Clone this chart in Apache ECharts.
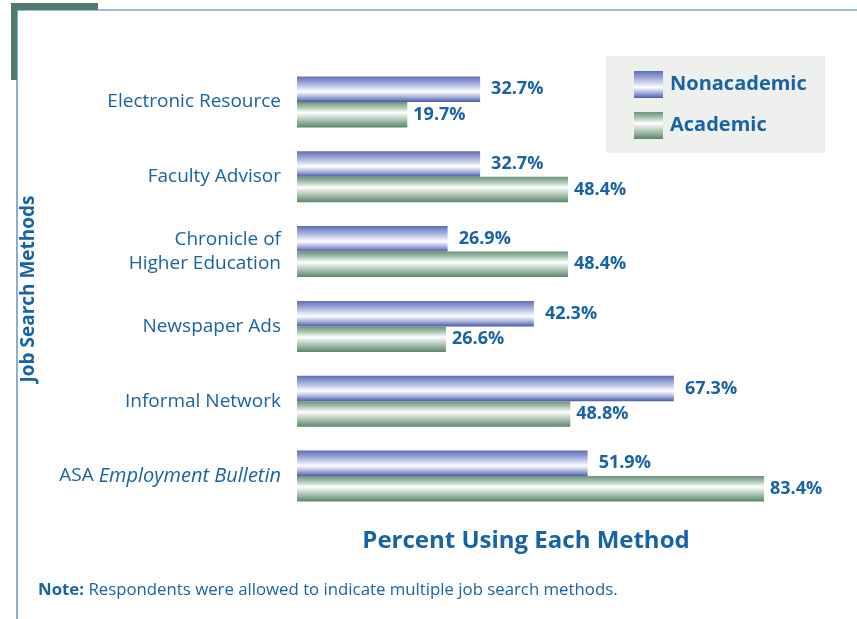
<!DOCTYPE html>
<html><head><meta charset="utf-8">
<script src="https://cdn.jsdelivr.net/npm/echarts@6/dist/echarts.min.js"></script>
<style>html,body{margin:0;padding:0;background:#fff}#c{width:857px;height:619px}</style>
</head><body><div id="c"></div>
<script>
const categories = ['Electronic Resource', 'Faculty Advisor', 'Chronicle of\nHigher Education', 'Newspaper Ads', 'Informal Network', 'ASA Employment Bulletin'];
const nonacademic = [32.7, 32.7, 26.9, 42.3, 67.3, 51.9];
const academic = [19.7, 48.4, 48.4, 26.6, 48.8, 83.4];
const seriesNames = ['Nonacademic', 'Academic'];
const xTitle = 'Percent Using Each Method';
const yTitle = 'Job Search Methods';
const noteBold = 'Note:';
const noteText = ' Respondents were allowed to indicate multiple job search methods.';

const TXT = '#1763a6';
const FONT = '"Open Sans", "Noto Sans", sans-serif';
function grad(edge, top, mid, whiteAt) {
  return new echarts.graphic.LinearGradient(0, 0, 0, 1, [
    {offset: 0, color: top}, {offset: whiteAt * 0.5, color: mid}, {offset: whiteAt, color: '#ffffff'},
    {offset: whiteAt + (1 - whiteAt) * 0.5, color: mid}, {offset: 1, color: edge}]);
}
const blueG = grad('#4a5ca4', '#5d6fb6', '#aab3de', 0.6);
const greenG = grad('#5a876a', '#6a927a', '#abc4b2', 0.42);

const chart = echarts.init(document.getElementById('c'));
chart.setOption({
  backgroundColor: '#fff',
  animation: false,
  textStyle: {fontFamily: FONT},
  grid: {left: 297, top: 64.5, width: 562, height: 449, containLabel: false},
  xAxis: {type: 'value', min: 0, max: 100, show: false},
  yAxis: {
    type: 'category', data: categories, inverse: true,
    axisLine: {show: false}, axisTick: {show: false},
    name: yTitle, nameLocation: 'middle', nameRotate: 90, nameGap: 259,
    nameTextStyle: {color: TXT, fontSize: 19, fontWeight: 'bold', fontFamily: FONT},
    axisLabel: {
      margin: 16, color: TXT, fontSize: 19, fontFamily: FONT, lineHeight: 24, align: 'right',
      formatter: function (v) {
        if (v === 'ASA Employment Bulletin') return 'ASA {i|Employment Bulletin}';
        return v;
      },
      rich: {i: {fontStyle: 'italic', color: TXT, fontSize: 20, fontFamily: FONT}}
    }
  },
  legend: {
    orient: 'vertical', left: 634, top: 71, padding: 0, itemWidth: 29, itemHeight: 27, itemGap: 14,
    icon: 'rect',
    data: seriesNames,
    textStyle: {color: TXT, fontSize: 20, fontWeight: 'bold', fontFamily: FONT, padding: [0, 0, 0, 2]}
  },
  series: [
    {name: seriesNames[0], type: 'bar', data: nonacademic, barWidth: 25.5, barGap: '0%',
     itemStyle: {color: blueG},
     label: {show: true, position: 'right', distance: 11, color: TXT, fontWeight: 'bold', fontSize: 18, fontFamily: FONT,
       formatter: p => p.value.toFixed(1) + '%'}},
    {name: seriesNames[1], type: 'bar', data: academic, barWidth: 25.5, barGap: '0%',
     itemStyle: {color: greenG},
     label: {show: true, position: 'right', distance: 6, color: TXT, fontWeight: 'bold', fontSize: 18, fontFamily: FONT,
       formatter: p => p.value.toFixed(1) + '%'}}
  ],
  graphic: [
    {type: 'rect', z: -10, shape: {x: 11, y: 3, width: 87, height: 77}, style: {fill: '#527a66'}},
    {type: 'rect', z: -9, shape: {x: 17, y: 10, width: 860, height: 620}, style: {fill: '#fff', stroke: '#3a7ab8', lineWidth: 1.2}},
    {type: 'rect', z: -8, shape: {x: 606, y: 56, width: 219, height: 97}, style: {fill: '#eef0ee'}},
    {type: 'text', x: 526, y: 541, style: {text: xTitle, x: 0, y: 0, align: 'center', verticalAlign: 'middle',
      fill: TXT, font: 'bold 24px ' + FONT}},
    {type: 'text', x: 38, y: 590, style: {
      text: '{b|' + noteBold + '}{n|' + noteText + '}', x: 0, y: 0, verticalAlign: 'middle',
      rich: {b: {fontWeight: 'bold', fontSize: 16.8, fill: TXT, fontFamily: FONT}, n: {fontSize: 16.8, fill: TXT, fontFamily: FONT}}
    }}
  ]
});
</script></body></html>
